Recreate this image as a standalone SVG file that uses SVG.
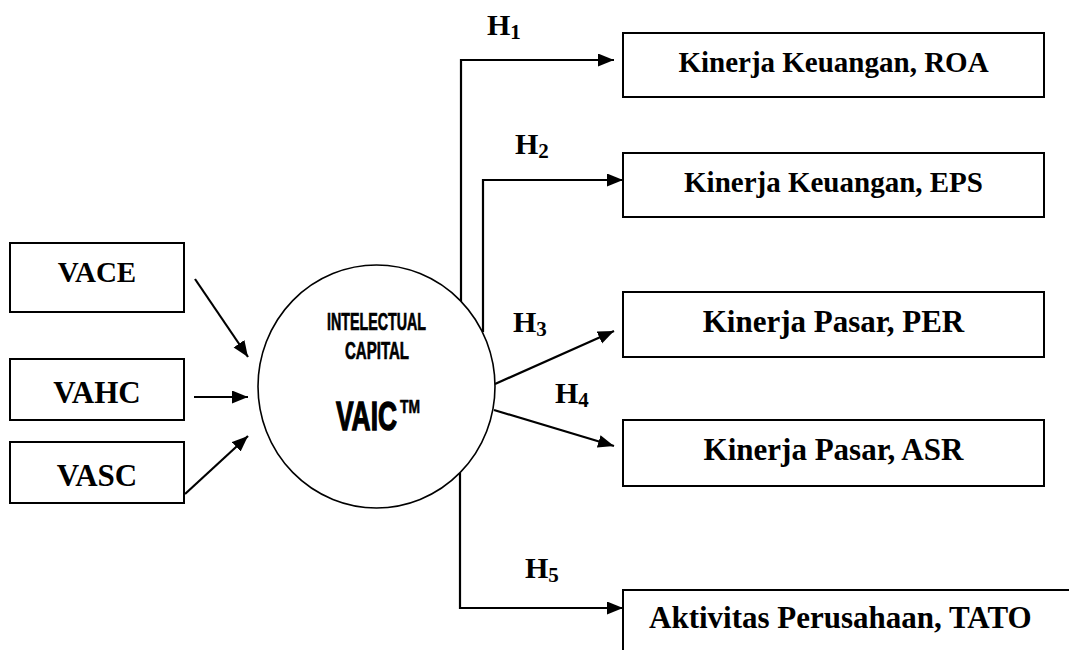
<svg xmlns="http://www.w3.org/2000/svg" width="1069" height="650" viewBox="0 0 1069 650">
<style>
.box{fill:#fff;stroke:#000;stroke-width:2}
.t{font-family:"Liberation Serif","Times New Roman",serif;font-weight:bold;fill:#000}
.c{font-family:"Liberation Sans",Arial,sans-serif;font-weight:bold;fill:#000;stroke:#000}
.ln{fill:none;stroke:#000;stroke-width:2.2}
</style>
<defs>
<marker id="ah" markerUnits="userSpaceOnUse" markerWidth="17" markerHeight="14" refX="16" refY="6.5" orient="auto">
<path d="M0,0 L16,6.5 L0,13 z" fill="#000"/>
</marker>
</defs>
<rect width="1069" height="650" fill="#fff"/>
<g id="connectors">
<line class="ln" x1="195" y1="279" x2="248" y2="357" marker-end="url(#ah)"/>
<line class="ln" x1="194" y1="397" x2="248" y2="397" marker-end="url(#ah)"/>
<line class="ln" x1="185" y1="494" x2="248" y2="436" marker-end="url(#ah)"/>
<polyline class="ln" points="461,302 461,60 614,60" marker-end="url(#ah)"/>
<polyline class="ln" points="483,332 483,180 623,180" marker-end="url(#ah)"/>
<line class="ln" x1="495" y1="384" x2="614" y2="331" marker-end="url(#ah)"/>
<line class="ln" x1="494" y1="410" x2="614" y2="446" marker-end="url(#ah)"/>
<polyline class="ln" points="460,473 460,608 623,608" marker-end="url(#ah)"/>
</g>
<g id="labels">
<text class="t" x="487" y="35" font-size="30">H<tspan font-size="21" dy="4">1</tspan></text>
<text class="t" x="515" y="154" font-size="30">H<tspan font-size="21" dy="4">2</tspan></text>
<text class="t" x="513" y="332" font-size="30">H<tspan font-size="21" dy="4">3</tspan></text>
<text class="t" x="555" y="403" font-size="30">H<tspan font-size="21" dy="4">4</tspan></text>
<text class="t" x="525" y="578" font-size="30">H<tspan font-size="21" dy="4">5</tspan></text>
</g>
<g id="vace">
<rect class="box" x="10" y="243" width="174" height="69"/>
<text class="t" x="97" y="282" font-size="29" text-anchor="middle">VACE</text>
</g>
<g id="vahc">
<rect class="box" x="10" y="359" width="174" height="61"/>
<text class="t" x="97" y="403" font-size="31" text-anchor="middle">VAHC</text>
</g>
<g id="vasc">
<rect class="box" x="10" y="442" width="174" height="61"/>
<text class="t" x="97" y="486" font-size="31" text-anchor="middle">VASC</text>
</g>
<g id="vaic">
<ellipse cx="376.5" cy="386.5" rx="118.5" ry="121.5" fill="#fff" stroke="#000" stroke-width="1.6"/>
<text class="c" x="327" y="330" font-size="24" stroke-width="0.7" textLength="99" lengthAdjust="spacingAndGlyphs">INTELECTUAL</text>
<text class="c" x="345" y="359" font-size="24" stroke-width="0.7" textLength="64" lengthAdjust="spacingAndGlyphs">CAPITAL</text>
<text class="c" font-size="40" stroke-width="1.4"><tspan x="336" y="430" textLength="61" lengthAdjust="spacingAndGlyphs">VAIC</tspan><tspan x="400" y="413" font-size="19" stroke-width="0.6" textLength="20" lengthAdjust="spacingAndGlyphs">TM</tspan></text>
</g>
<g id="roa">
<rect class="box" x="623" y="33" width="421" height="64"/>
<text class="t" x="833.5" y="72" font-size="29" text-anchor="middle">Kinerja Keuangan, ROA</text>
</g>
<g id="eps">
<rect class="box" x="623" y="153" width="421" height="64"/>
<text class="t" x="833.5" y="192" font-size="29" text-anchor="middle">Kinerja Keuangan, EPS</text>
</g>
<g id="per">
<rect class="box" x="623" y="292" width="421" height="65"/>
<text class="t" x="833.5" y="332" font-size="31" text-anchor="middle">Kinerja Pasar, PER</text>
</g>
<g id="asr">
<rect class="box" x="623" y="420" width="421" height="66"/>
<text class="t" x="833.5" y="460" font-size="31" text-anchor="middle">Kinerja Pasar, ASR</text>
</g>
<g id="tato">
<path class="box" d="M623,652 V590 H1072" fill="none"/>
<text class="t" x="649" y="628" font-size="31">Aktivitas Perusahaan, TATO</text>
</g>
</svg>
